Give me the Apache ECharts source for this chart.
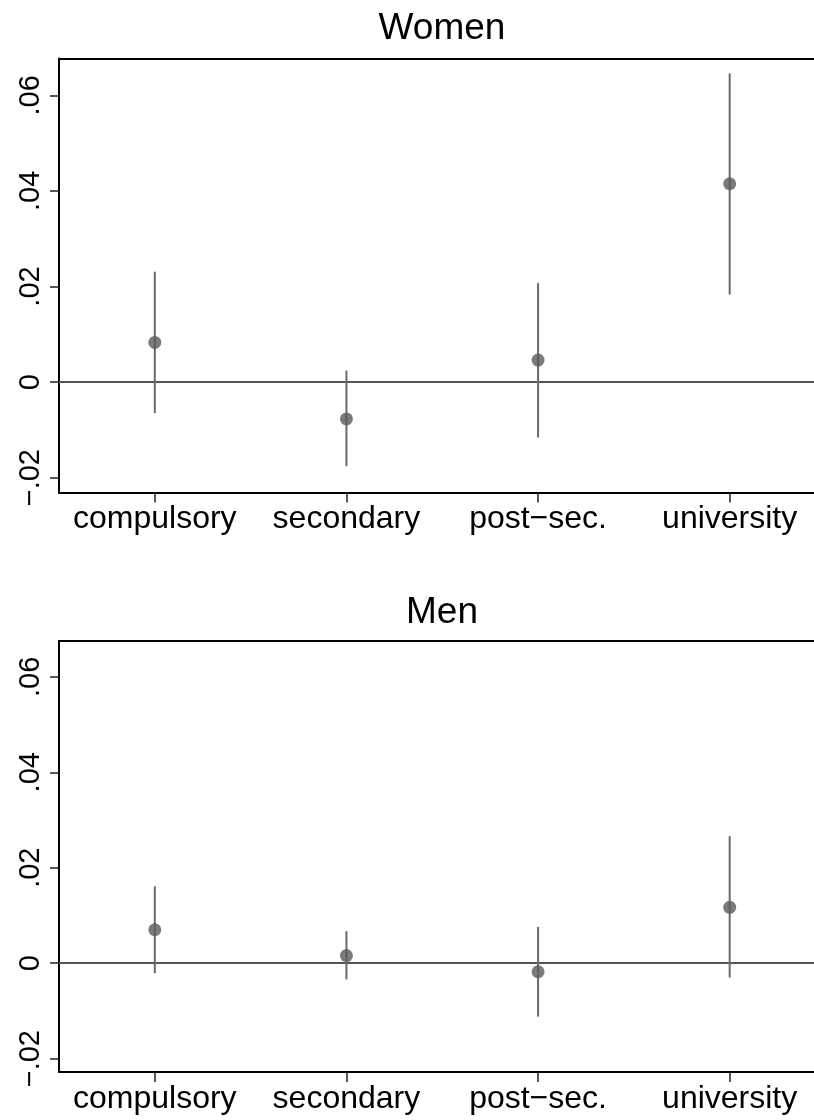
<!DOCTYPE html>
<html>
<head>
<meta charset="utf-8">
<script src="https://cdn.jsdelivr.net/npm/echarts@6/dist/echarts.min.js"></script>
<style>
html,body{margin:0;padding:0;background:#fff;}
#chart{width:814px;height:1120px;}
</style>
</head>
<body>
<div id="chart"></div>
<script>
// ---- data ----
const categories = ['compulsory', 'secondary', 'post\u2212sec.', 'university'];
const catPositions = [1, 2, 3, 4];
const panelTitles = ['Women', 'Men'];

const womenEst  = [0.0083, -0.0077, 0.0046, 0.0415];
const womenLow  = [-0.0065, -0.0176, -0.0116, 0.0183];
const womenHigh = [0.0231, 0.0024, 0.0207, 0.0646];

const menEst  = [0.0070, 0.0016, -0.0018, 0.0117];
const menLow  = [-0.0021, -0.0034, -0.0112, -0.0030];
const menHigh = [0.0161, 0.0067, 0.0076, 0.0266];

const yTickValues = [-0.02, 0, 0.02, 0.04, 0.06];
const yTickLabels = ['\u2212.02', '0', '.02', '.04', '.06'];

// ---- chart ----
const FONT = "'Liberation Sans', Arial, Helvetica, sans-serif";
const chart = echarts.init(document.getElementById('chart'), null, {renderer: 'canvas'});

const grids = [
  {left: 59, top: 58.5, right: 0, height: 434},
  {left: 59, top: 641, right: 0, height: 431}
];
const yRanges = [[-0.0231, 0.0677], [-0.0228, 0.0675]];
const xRange = [0.5, 4.44];

function xAxisFor(i) {
  return {
    type: 'value', gridIndex: i, min: xRange[0], max: xRange[1], position: 'bottom',
    axisLine: {show: true, onZero: false, lineStyle: {color: '#000', width: 2}},
    axisTick: {show: true, customValues: catPositions, length: 10, lineStyle: {color: '#222', width: 1.5}},
    axisLabel: {
      show: true, customValues: catPositions, margin: 11,
      fontFamily: FONT, fontSize: 32, color: '#000',
      formatter: v => categories[catPositions.indexOf(Math.round(v))] || ''
    },
    splitLine: {show: false}
  };
}
function topFrameFor(i) {
  return {
    type: 'value', gridIndex: i, min: xRange[0], max: xRange[1], position: 'top',
    axisLine: {show: true, onZero: false, lineStyle: {color: '#000', width: 2}},
    axisTick: {show: false}, axisLabel: {show: false}, splitLine: {show: false}
  };
}
function yAxisFor(i) {
  return {
    type: 'value', gridIndex: i, min: yRanges[i][0], max: yRanges[i][1],
    axisLine: {show: true, onZero: false, lineStyle: {color: '#000', width: 2}},
    axisTick: {show: true, customValues: yTickValues, length: 9, lineStyle: {color: '#222', width: 1.5}},
    axisLabel: {
      show: true, customValues: yTickValues, rotate: 90, margin: 14,
      fontFamily: FONT, fontSize: 29, color: '#000',
      formatter: v => {
        const k = yTickValues.findIndex(t => Math.abs(t - v) < 1e-9);
        return k >= 0 ? yTickLabels[k] : '';
      }
    },
    splitLine: {show: false}
  };
}

function errorSeries(i, low, high) {
  return {
    type: 'custom', xAxisIndex: i, yAxisIndex: i, silent: true, z: 3,
    data: catPositions.map((x, k) => [x, low[k], high[k]]),
    renderItem: function (params, api) {
      const p1 = api.coord([api.value(0), api.value(1)]);
      const p2 = api.coord([api.value(0), api.value(2)]);
      return {
        type: 'line',
        shape: {x1: p1[0], y1: p1[1], x2: p2[0], y2: p2[1]},
        style: {stroke: '#6a6a6a', lineWidth: 2}
      };
    }
  };
}
function pointSeries(i, est) {
  return {
    type: 'scatter', xAxisIndex: i, yAxisIndex: i, silent: true, z: 4,
    symbol: 'circle', symbolSize: 13,
    itemStyle: {color: '#5a5a5a'},
    data: catPositions.map((x, k) => [x, est[k]]),
    markLine: {
      silent: true, symbol: ['none', 'none'], z: 2,
      label: {show: false},
      lineStyle: {color: '#555', width: 2, type: 'solid'},
      data: [{yAxis: 0}]
    }
  };
}

const titleCenters = [
  {x: 442, y: 29},
  {x: 442, y: 613}
];

chart.setOption({
  animation: false,
  backgroundColor: '#fff',
  grid: grids.map(g => Object.assign({show: false, containLabel: false}, g)),
  xAxis: [xAxisFor(0), xAxisFor(1), topFrameFor(0), topFrameFor(1)],
  yAxis: [yAxisFor(0), yAxisFor(1)],
  graphic: panelTitles.map((t, i) => ({
    type: 'text', x: titleCenters[i].x, y: titleCenters[i].y, silent: true,
    style: {text: t, fill: '#000', font: '37px ' + FONT, textAlign: 'center', textVerticalAlign: 'middle'}
  })),
  series: [
    errorSeries(0, womenLow, womenHigh),
    pointSeries(0, womenEst),
    errorSeries(1, menLow, menHigh),
    pointSeries(1, menEst)
  ]
});
</script>
</body>
</html>
